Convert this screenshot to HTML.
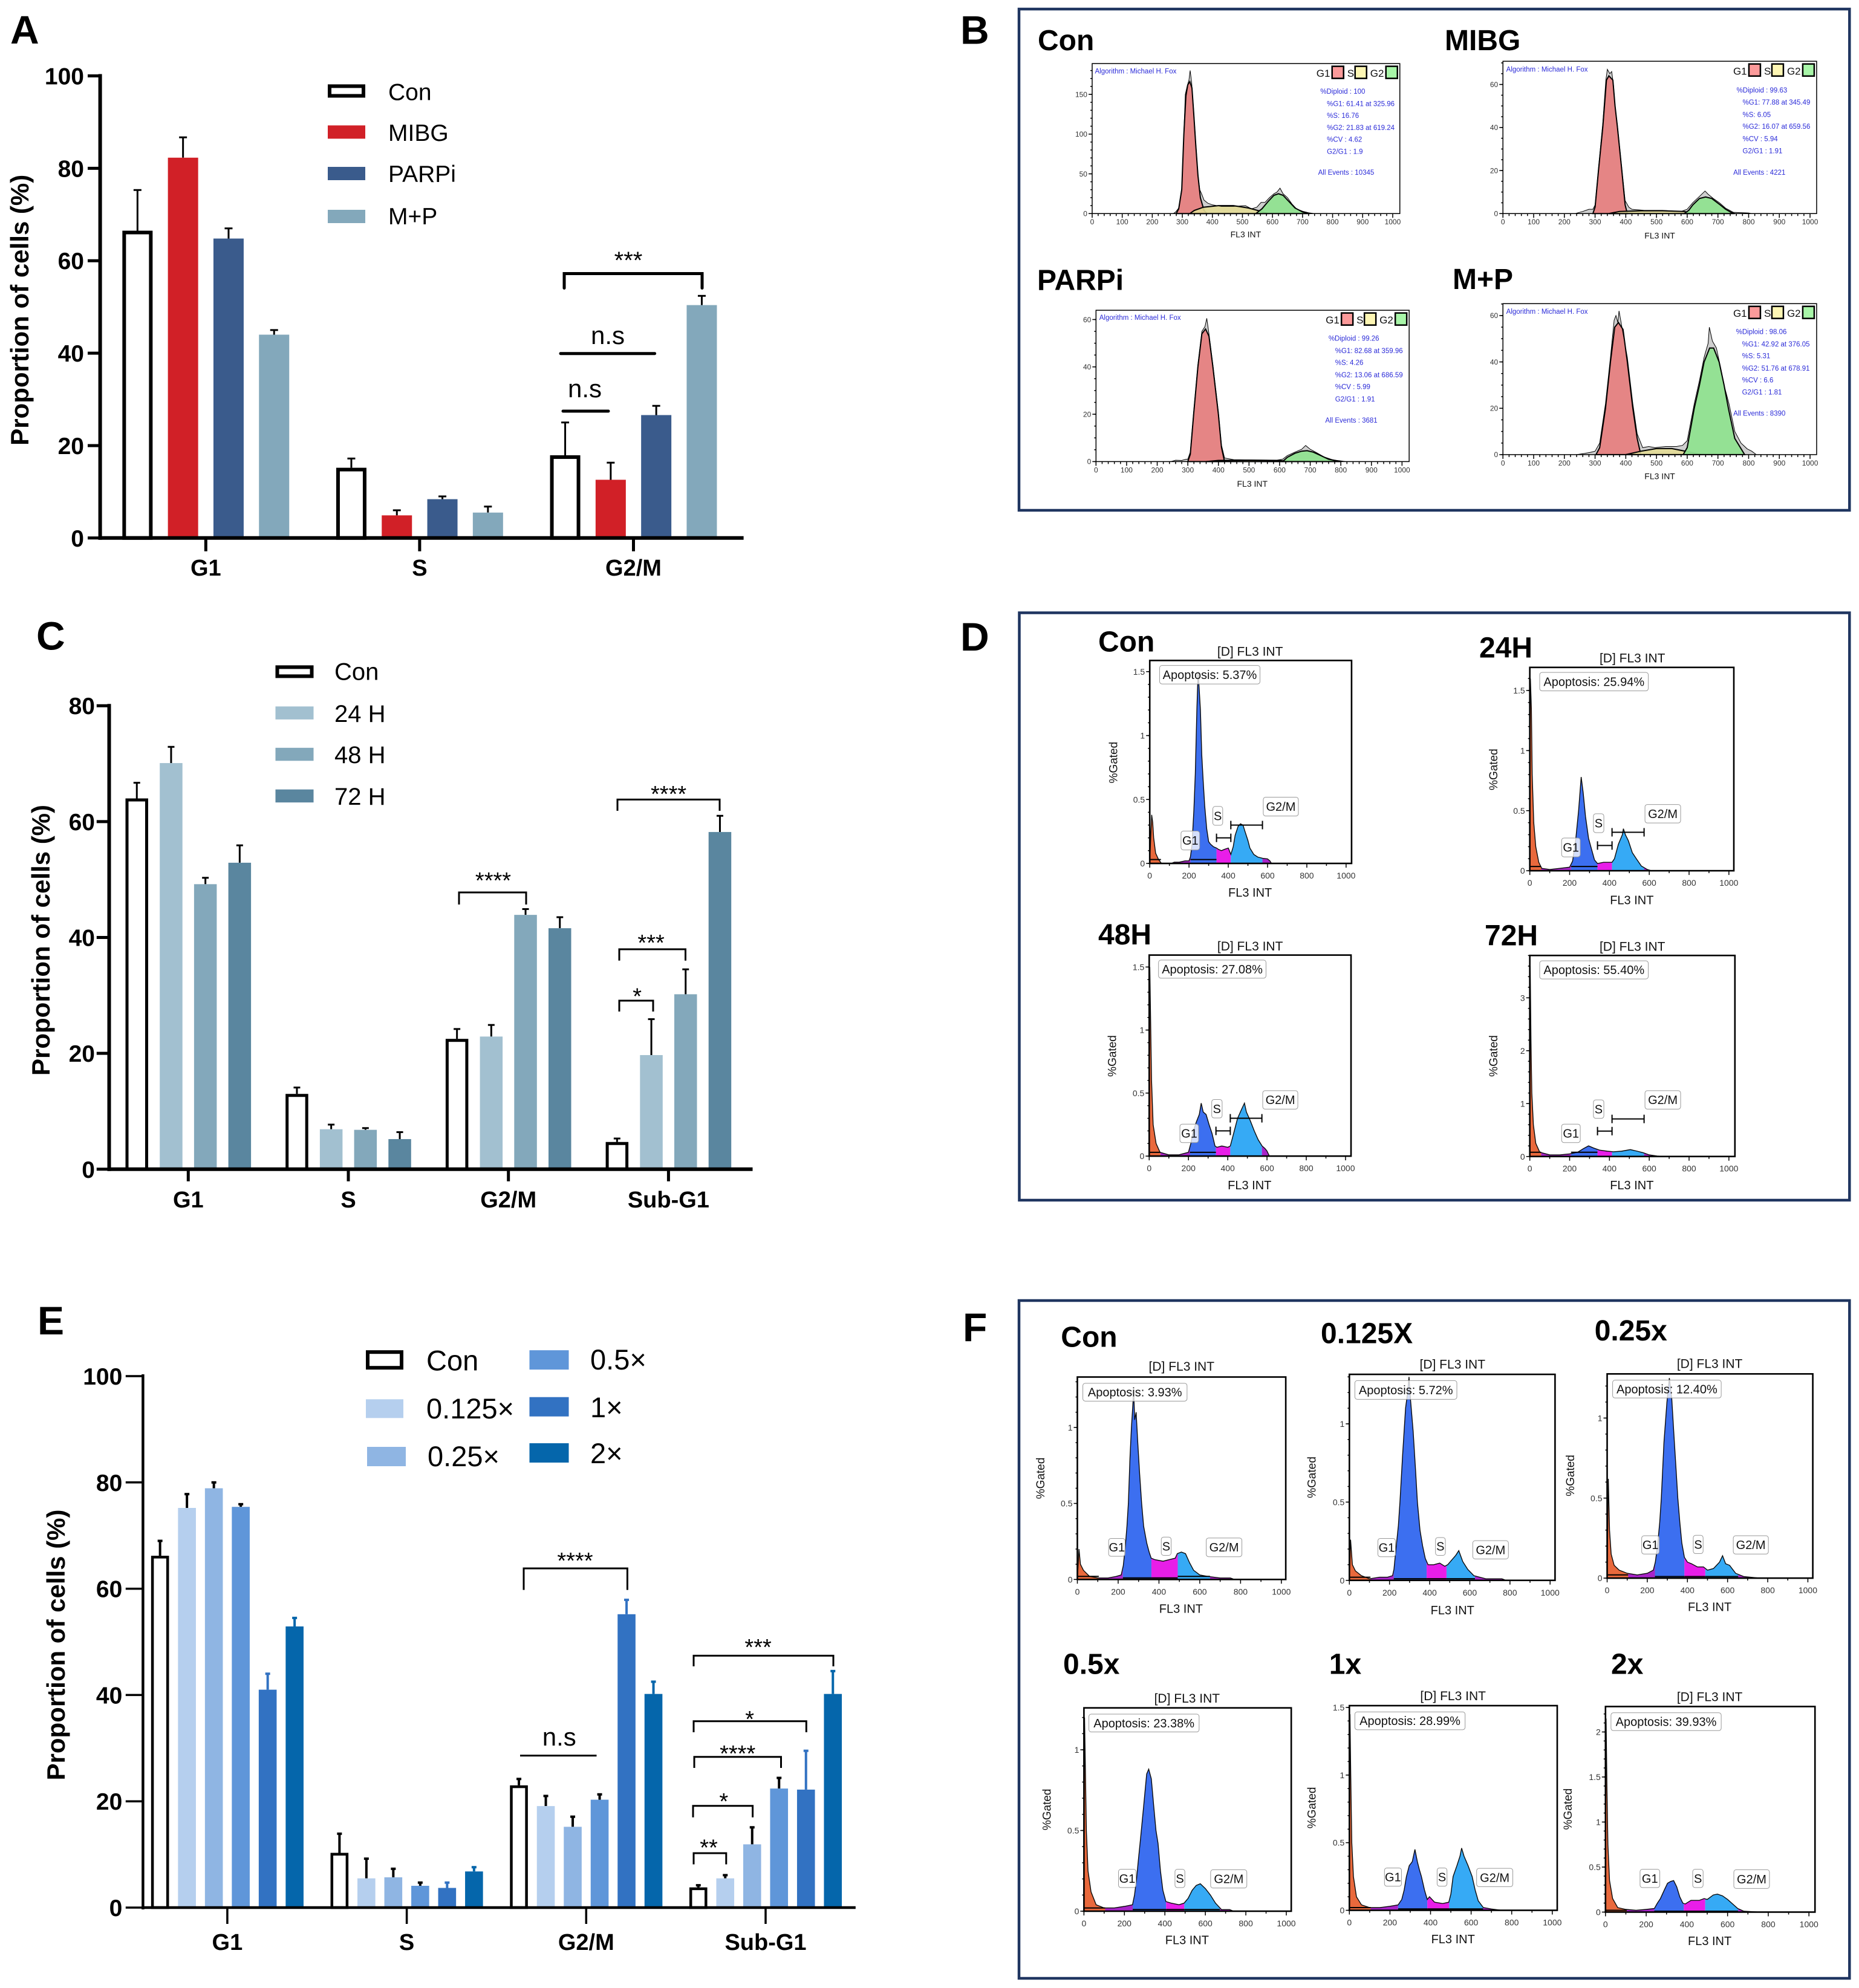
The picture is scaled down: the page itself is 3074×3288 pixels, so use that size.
<!DOCTYPE html>
<html lang="en">
<head>
<meta charset="utf-8">
<title>Cell cycle and apoptosis figure</title>
<style>
html,body{margin:0;padding:0;background:#fff;}
svg{display:block;font-family:"Liberation Sans",sans-serif;}
.letter{font-size:66px;font-weight:700;fill:#000;}
.ttl{font-size:48px;font-weight:700;fill:#000;}
.ytitle{font-size:42px;font-weight:700;fill:#000;text-anchor:middle;}
.leg{font-size:39px;fill:#000;}
.legE{font-size:47px;fill:#000;}
.star{font-size:38px;fill:#000;text-anchor:middle;}
.ns{font-size:42px;fill:#000;text-anchor:middle;}
.brk{fill:none;stroke:#000;stroke-width:3;}
.brkA{fill:none;stroke:#000;stroke-width:5;stroke-linecap:round;}
.frame{fill:none;stroke:#1f3560;stroke-width:4.5;}
</style>
</head>
<body>
<svg id="figure" xmlns="http://www.w3.org/2000/svg" width="3074" height="3288" viewBox="0 0 3074 3288">
<rect x="0" y="0" width="3074" height="3288" fill="#fff"/>

<rect class="frame" x="1685" y="15" width="1373.3" height="829"/>
<rect class="frame" x="1685.5" y="1013.5" width="1372.8" height="971.5"/>
<rect class="frame" x="1685" y="2151" width="1373.3" height="1121"/>

<text class="letter" x="17" y="72">A</text>
<text class="letter" x="1588" y="72.7">B</text>
<text class="letter" x="60" y="1074.7">C</text>
<text class="letter" x="1588" y="1076">D</text>
<text class="letter" x="62" y="2207">E</text>
<text class="letter" x="1592" y="2218">F</text>

<!-- chart A -->
<g id="chartA"></g>
<text class="ytitle" transform="translate(47,512.8) rotate(-90)">Proportion of cells (%)</text>
<g>
<rect x="545" y="142.5" width="56" height="16" fill="#fff" stroke="#000" stroke-width="6"/>
<text class="leg" x="642" y="165.5">Con</text>
<rect x="542" y="207.4" width="62" height="22" fill="#d12027"/>
<text class="leg" x="642" y="233">MIBG</text>
<rect x="542" y="276" width="62" height="22" fill="#3a5b8c"/>
<text class="leg" x="642" y="301">PARPi</text>
<rect x="542" y="347" width="62" height="22" fill="#83a8bb"/>
<text class="leg" x="642" y="371">M+P</text>
</g>
<path class="brkA" d="M933 476.5V452.5H1161V476.5"/>
<text class="star" style="font-size:40px" x="1039" y="444">***</text>
<path class="brkA" d="M927 584.7H1082.6"/>
<text class="ns" x="1005" y="569">n.s</text>
<path class="brkA" d="M931 680H1006"/>
<text class="ns" x="967" y="657">n.s</text>

<!-- chart C -->
<g id="chartC"></g>
<text class="ytitle" transform="translate(82,1555) rotate(-90)">Proportion of cells (%)</text>
<g>
<rect x="458.5" y="1103.4" width="57" height="15" fill="#fff" stroke="#000" stroke-width="6"/>
<text class="leg" x="553" y="1124.6" style="font-size:40px">Con</text>
<rect x="455.5" y="1168.4" width="63" height="21.5" fill="#a2c0d0"/>
<text class="leg" x="553" y="1194" style="font-size:40px">24 H</text>
<rect x="455.5" y="1236.8" width="63" height="21.5" fill="#83a8bb"/>
<text class="leg" x="553" y="1262" style="font-size:40px">48 H</text>
<rect x="455.5" y="1305.7" width="63" height="21.5" fill="#5a869f"/>
<text class="leg" x="553" y="1331" style="font-size:40px">72 H</text>
</g>
<path class="brk" d="M759 1496V1476H870V1496"/>
<text class="star" x="815.5" y="1469">****</text>
<path class="brk" d="M1021 1341V1322.4H1190V1341"/>
<text class="star" x="1105.6" y="1326">****</text>
<path class="brk" d="M1024 1588.7V1570H1133.5V1588.7"/>
<text class="star" x="1076.6" y="1572">***</text>
<path class="brk" d="M1024 1673V1655H1080V1673"/>
<text class="star" x="1053.7" y="1660.5">*</text>

<!-- chart E -->
<g id="chartE"></g>
<text class="ytitle" transform="translate(107,2720.5) rotate(-90)">Proportion of cells (%)</text>
<g>
<rect x="608" y="2236.2" width="56" height="26" fill="#fff" stroke="#000" stroke-width="6"/>
<text class="legE" x="705" y="2266.5">Con</text>
<rect x="605" y="2314.3" width="62" height="31" fill="#b5cfee"/>
<text class="legE" x="705" y="2346">0.125×</text>
<rect x="607" y="2393" width="64" height="32" fill="#8fb5e3"/>
<text class="legE" x="707" y="2425">0.25×</text>
<rect x="875.5" y="2233.2" width="65" height="32" fill="#5f96d9"/>
<text class="legE" x="976" y="2265">0.5×</text>
<rect x="875.5" y="2310.7" width="65" height="32" fill="#3272c2"/>
<text class="legE" x="976" y="2343.8">1×</text>
<rect x="875.5" y="2387" width="65" height="32" fill="#0566ab"/>
<text class="legE" x="976" y="2420">2×</text>
</g>
<path class="brk" d="M866 2629.6V2594H1037.4V2629.6"/>
<text class="star" x="951" y="2594">****</text>
<path class="brk" d="M860 2903.6H986.5"/>
<text class="ns" x="924.8" y="2887">n.s</text>
<path class="brk" d="M1147 2756V2738.4H1378V2756"/>
<text class="star" x="1253.6" y="2737">***</text>
<path class="brk" d="M1147 2865V2846.8H1333.3V2865"/>
<text class="star" x="1239.6" y="2856">*</text>
<path class="brk" d="M1148 2924V2905.8H1291.5V2924"/>
<text class="star" x="1219.7" y="2913">****</text>
<path class="brk" d="M1146 3005.7V2986.8H1244.6V3005.7"/>
<text class="star" x="1196.8" y="2992">*</text>
<path class="brk" d="M1147 3083.5V3065H1200.8V3083.5"/>
<text class="star" x="1172" y="3068.6">**</text>

<!-- flow panel titles -->
<text class="ttl" x="1716" y="83.2">Con</text>
<text class="ttl" x="2389" y="83.2">MIBG</text>
<text class="ttl" x="1715" y="479.7">PARPi</text>
<text class="ttl" x="2402" y="478">M+P</text>
<text class="ttl" x="1816" y="1077.7">Con</text>
<text class="ttl" x="2446" y="1087.3">24H</text>
<text class="ttl" x="1816" y="1561.8">48H</text>
<text class="ttl" x="2455" y="1563.7">72H</text>
<text class="ttl" x="1754.3" y="2227.3">Con</text>
<text class="ttl" x="2184" y="2221.4">0.125X</text>
<text class="ttl" x="2636.7" y="2217">0.25x</text>
<text class="ttl" x="1758" y="2768.6">0.5x</text>
<text class="ttl" x="2197.8" y="2768.6">1x</text>
<text class="ttl" x="2664" y="2768.6">2x</text>

<g id="flowPlots"></g>
</svg>

<script>
/* ---------- bar chart data ---------- */
const categoriesA = ['G1', 'S', 'G2/M'];
const yTicksA = [0, 20, 40, 60, 80, 100];
const seriesNamesA = ['Con', 'MIBG', 'PARPi', 'M+P'];
const conA = [66.5, 15.2, 17.9];
const conTopA = [75.3, 17.2, 25];
const mibgA = [82.3, 4.9, 12.6];
const mibgTopA = [86.7, 6, 16.3];
const parpiA = [64.8, 8.4, 26.6];
const parpiTopA = [67, 9, 28.6];
const mpA = [44, 5.5, 50.4];
const mpTopA = [45, 6.8, 52.4];

const categoriesC = ['G1', 'S', 'G2/M', 'Sub-G1'];
const yTicksC = [0, 20, 40, 60, 80];
const seriesNamesC = ['Con', '24 H', '48 H', '72 H'];
const conC = [64, 13, 22.5, 4.7];
const conTopC = [66.7, 14.1, 24.2, 5.3];
const h24C = [70.1, 6.9, 22.9, 19.7];
const h24TopC = [72.9, 7.7, 24.9, 25.9];
const h48C = [49.2, 6.8, 43.9, 30.2];
const h48TopC = [50.3, 7.1, 44.9, 34.5];
const h72C = [52.9, 5.2, 41.6, 58.2];
const h72TopC = [55.9, 6.4, 43.5, 61];

const categoriesE = ['G1', 'S', 'G2/M', 'Sub-G1'];
const yTicksE = [0, 20, 40, 60, 80, 100];
const seriesNamesE = ['Con', '0.125×', '0.25×', '0.5×', '1×', '2×'];
const conE = [66.2, 10.3, 23, 3.8];
const conTopE = [69, 13.9, 24.2, 4.2];
const d0125E = [75.2, 5.5, 19.1, 5.5];
const d0125TopE = [77.8, 9.2, 21, 6.1];
const d025E = [78.9, 5.7, 15.2, 11.9];
const d025TopE = [80, 7.3, 17.1, 15.1];
const d05E = [75.4, 4.1, 20.3, 22.4];
const d05TopE = [75.9, 4.7, 21.3, 24.4];
const d1E = [41, 3.7, 55.2, 22.2];
const d1TopE = [44, 4.7, 57.9, 29.5];
const d2E = [52.9, 6.8, 40.2, 40.2];
const d2TopE = [54.5, 7.6, 42.5, 44.5];

/* ---------- flow histograms: [FL3 INT, events] ---------- */
const bConRaw = [[270,0],[278,2],[288,7],[298,32],[305,102],[310,150],[316,160],[322,168],[326,180],[331,165],[338,128],[345,88],[352,50],[358,30],[364,25],[372,17],[385,13],[400,11],[430,9],[470,9],[510,10],[530,6],[548,8],[562,14],[575,14],[590,20],[605,25],[615,27],[625,32],[635,25],[650,20],[665,12],[680,6],[700,3],[720,1],[740,0]];
const bConG1 = [[280,0],[288,6],[298,30],[305,100],[312,148],[318,162],[325,166],[332,158],[338,125],[345,85],[352,48],[360,20],[372,4],[382,0]];
const bConS = [[325,0],[340,4],[370,8],[420,10],[470,10],[520,7],[560,3],[585,0]];
const bConG2 = [[545,0],[565,6],[585,15],[605,23],[620,25],[635,23],[655,15],[675,7],[700,2],[725,0]];
const bMibgRaw = [[235,0],[260,1],[280,2],[293,2],[300,4],[311,21],[325,42],[335,62],[340,67],[348,65],[354,66],[360,60],[365,50],[373,41],[387,21],[398,6],[410,3],[420,2],[460,1.5],[520,1.5],[580,1],[600,2],[618,5],[640,8],[658,10.5],[668,9],[685,7],[705,5],[725,2.5],[750,.6],[800,.3],[810,0]];
const bMibgG1 = [[293,0],[300,3],[311,20],[325,40],[337,62],[345,64],[358,62],[365,50],[373,40],[387,20],[398,4],[405,0]];
const bMibgS = [[345,0],[380,1],[450,1.3],[520,1.3],[590,1],[620,0]];
const bMibgG2 = [[590,0],[605,1.5],[618,4],[640,7],[660,7.7],[680,7],[705,4.3],[725,2],[745,.4],[755,0]];
const bParpiRaw = [[245,0],[260,.6],[280,.5],[295,1],[300,1],[308,4],[319,21],[333,41],[346,55],[356,57],[362,60.5],[369,54],[382,41],[400,21],[410,7],[420,1.5],[450,.8],[520,.7],[590,.6],[610,1],[625,2.5],[650,4],[672,5.2],[685,6.8],[700,5.2],[720,3.8],[745,2],[775,.7],[800,.3],[815,0]];
const bParpiG1 = [[300,0],[308,3],[319,20],[333,40],[346,54],[358,56],[369,53],[382,40],[400,20],[410,6],[420,0]];
const bParpiS = [[360,0],[400,.5],[500,.6],[600,.5],[630,0]];
const bParpiG2 = [[610,0],[625,1.8],[650,3.5],[672,4.4],[690,4.6],[710,4],[735,2.5],[760,1],[800,0]];
const bMpRaw = [[240,0],[265,.5],[285,1],[300,1.5],[315,5],[334,22],[350,42],[362,58],[368,60],[374,57],[378,62],[386,56],[394,50],[405,42],[423,22],[437,9],[455,3],[475,3.5],[495,3],[530,3.5],[565,3.5],[585,4],[600,6],[623,22],[640,32],[655,42],[668,48],[672,55],[682,49],[695,46],[708,38],[722,29],[736,22],[755,10],[775,5],[795,2.5],[810,1.5],[825,0]];
const bMpG1 = [[303,0],[315,3],[334,20],[350,40],[364,55],[376,57],[391,54],[405,40],[423,20],[437,7],[449,0]];
const bMpS = [[400,0],[450,1.5],[500,2.6],[550,2.6],[600,1.3],[645,0]];
const bMpG2 = [[587,0],[600,3],[623,20],[640,30],[655,40],[673,46],[686,46],[704,40],[720,30],[734,20],[755,7],[787,0]];

const dConCurve = [[0,0],[5,.2],[10,.38],[15,.32],[20,.2],[30,.08],[45,.03],[60,0],[110,0],[125,.01],[150,.01],[180,.02],[200,.02],[207,.05],[215,.14],[225,.42],[232,.7],[240,1.2],[246,1.5],[252,1.36],[258,1.2],[265,.85],[272,.65],[280,.45],[290,.27],[300,.17],[310,.15],[325,.13],[340,.12],[350,.11],[365,.1],[380,.11],[400,.12],[413,.07],[425,.13],[435,.22],[450,.29],[462,.31],[475,.3],[485,.25],[500,.18],[510,.12],[530,.07],[550,.05],[575,.04],[600,.035],[612,.02],[620,0],[1000,0]];
const d24hCurve = [[0,0],[3,1.6],[8,1.35],[12,.8],[20,.4],[30,.2],[45,.07],[60,.02],[100,.01],[150,.02],[200,.03],[215,.08],[230,.25],[245,.5],[258,.78],[268,.65],[280,.45],[295,.27],[310,.18],[325,.09],[340,.06],[370,.07],[395,.07],[413,.07],[425,.1],[445,.22],[465,.3],[470,.35],[480,.3],[495,.25],[515,.15],[535,.1],[560,.04],[590,.01],[610,0],[1000,0]];
const d48hCurve = [[0,0],[3,1.5],[8,1],[12,.6],[20,.25],[35,.1],[55,.03],[100,.01],[150,.01],[200,.03],[212,.1],[225,.2],[240,.27],[255,.33],[265,.42],[275,.35],[290,.33],[305,.25],[320,.18],[335,.08],[345,.07],[370,.08],[400,.07],[413,.08],[430,.18],[450,.3],[470,.37],[485,.42],[495,.35],[515,.28],[535,.2],[555,.13],[575,.08],[590,.06],[600,.04],[612,0],[1000,0]];
const d72hCurve = [[0,0],[2,3.6],[6,2.2],[10,1.2],[18,.6],[30,.25],[50,.08],[100,.03],[150,.03],[200,.05],[240,.08],[270,.15],[295,.2],[320,.16],[350,.12],[390,.1],[420,.09],[460,.1],[505,.13],[540,.1],[570,.07],[600,.03],[640,.01],[680,0],[1000,0]];
const fConCurve = [[0,0],[8,.2],[15,.1],[30,.06],[60,.02],[100,.01],[150,.01],[190,.02],[215,.03],[225,.09],[234,.2],[243,.35],[250,.5],[258,.8],[265,1],[272,1.15],[276,1.25],[281,1.05],[288,1.1],[296,.9],[305,.7],[315,.5],[325,.35],[340,.24],[352,.18],[362,.14],[380,.13],[420,.12],[450,.13],[480,.14],[490,.17],[510,.18],[530,.17],[550,.11],[570,.06],[600,.03],[640,.02],[700,.01],[750,.01],[770,0],[1000,0]];
const f0125Curve = [[0,0],[6,.26],[15,.1],[30,.06],[60,.03],[100,.01],[150,.02],[190,.02],[215,.03],[222,.07],[232,.2],[244,.35],[252,.5],[265,.8],[280,1.1],[290,1.2],[297,1.3],[305,1.15],[318,.95],[330,.7],[339,.5],[352,.32],[365,.22],[378,.14],[392,.1],[420,.1],[450,.11],[475,.09],[490,.1],[510,.13],[530,.16],[545,.19],[565,.12],[590,.07],[620,.03],[680,.01],[760,.01],[780,0],[1000,0]];
const f025Curve = [[0,0],[6,.62],[12,.3],[20,.15],[35,.08],[60,.05],[100,.03],[150,.02],[200,.03],[230,.05],[240,.1],[251,.2],[262,.35],[270,.5],[283,.85],[298,1.1],[310,1.25],[322,1.12],[335,.85],[345,.65],[352,.5],[362,.35],[372,.22],[385,.13],[400,.1],[420,.09],[450,.07],[480,.07],[500,.05],[530,.06],[560,.1],[575,.14],[590,.09],[610,.08],[640,.03],[680,.01],[760,0],[1000,0]];
const f05Curve = [[0,0],[3,1.2],[7,.9],[12,.5],[20,.25],[35,.12],[60,.04],[100,.02],[150,.02],[200,.03],[240,.04],[250,.1],[260,.2],[270,.33],[279,.44],[295,.65],[310,.85],[320,.88],[333,.82],[345,.65],[356,.5],[366,.42],[378,.25],[390,.13],[405,.06],[430,.05],[470,.04],[495,.05],[515,.08],[535,.13],[555,.16],[575,.17],[600,.14],[625,.1],[650,.05],[680,.01],[720,.01],[740,0],[1000,0]];
const f1Curve = [[0,0],[3,1.45],[7,1],[12,.5],[20,.25],[35,.1],[60,.04],[100,.02],[150,.02],[200,.03],[240,.04],[258,.08],[270,.15],[281,.25],[295,.33],[310,.36],[323,.45],[335,.36],[345,.3],[355,.25],[370,.15],[384,.08],[395,.1],[420,.06],[460,.05],[490,.06],[500,.12],[511,.25],[530,.33],[545,.4],[553,.46],[565,.4],[585,.33],[605,.25],[620,.15],[635,.07],[660,.02],[700,.01],[750,0],[1000,0]];
const f2Curve = [[0,0],[3,2.15],[7,1.4],[12,.75],[20,.35],[35,.15],[60,.05],[100,.03],[150,.02],[200,.03],[240,.04],[255,.1],[270,.15],[290,.25],[305,.32],[320,.34],[335,.35],[350,.28],[365,.17],[380,.1],[392,.09],[420,.13],[460,.13],[485,.15],[500,.14],[530,.19],[550,.2],[575,.18],[600,.14],[625,.09],[650,.04],[680,.01],[760,0],[1000,0]];

/* gates: [from, to, level] in FL3 INT and %Gated */
const dConGates = [[0,57,.03],[207,340,.03],[340,413,.2],[413,574,.3]];
const d24hGates = [[0,57,.035],[207,340,.035],[340,413,.21],[413,574,.32]];
const d48hGates = [[0,57,.03],[207,340,.03],[340,413,.2],[413,574,.3]];
const d72hGates = [[0,57,.08],[207,340,.08],[340,413,.48],[413,574,.71]];
const fConGates = [[0,105,.02],[223,363,.01],[363,492,.01],[492,650,.02]];
const f0125Gates = [[0,105,.02],[221,385,.01],[385,484,.01],[484,626,.01]];
const f025Gates = [[0,105,.02],[238,385,.01],[385,489,.01],[489,653,.01]];
const f05Gates = [[0,105,.02],[241,406,.01],[406,496,.01],[496,672,.01]];
const f1Gates = [[0,105,.02],[240,384,.01],[384,492,.01],[492,659,.01]];
const f2Gates = [[0,105,.02],[240,385,.01],[385,490,.01],[490,652,.01]];

const xTicksLabelledB = [0,100,200,300,400,500,600,700,800,900,1000];
const xTicksLabelledDF = [0,200,400,600,800,1000];
const yTicksBCon = [0,50,100,150];
const yTicks60 = [0,20,40,60];
const yTicks15 = [0,.5,1,1.5];
const yTicks3 = [0,1,2,3];
const yTicks1 = [0,.5,1];
const yTicks2 = [0,.5,1,1.5,2];

const statsBCon = ['%Diploid : 100','%G1: 61.41 at 325.96','%S: 16.76','%G2: 21.83 at 619.24','%CV : 4.62','G2/G1 : 1.9','All Events : 10345'];
const statsBMibg = ['%Diploid : 99.63','%G1: 77.88 at 345.49','%S: 6.05','%G2: 16.07 at 659.56','%CV : 5.94','G2/G1 : 1.91','All Events : 4221'];
const statsBParpi = ['%Diploid : 99.26','%G1: 82.68 at 359.96','%S: 4.26','%G2: 13.06 at 686.59','%CV : 5.99','G2/G1 : 1.91','All Events : 3681'];
const statsBMp = ['%Diploid : 98.06','%G1: 42.92 at 376.05','%S: 5.31','%G2: 51.76 at 678.91','%CV : 6.6','G2/G1 : 1.81','All Events : 8390'];

/* ---------- helpers ---------- */
const NS = 'http://www.w3.org/2000/svg';
function mk(parent, tag, attrs, txt) {
  const el = document.createElementNS(NS, tag);
  for (const k in attrs) el.setAttribute(k, attrs[k]);
  if (txt !== undefined) el.textContent = txt;
  parent.appendChild(el);
  return el;
}

/* ---------- bar charts ---------- */
function drawBarChart(cfg) {
  const root = document.getElementById(cfg.id);
  const yScale = v => cfg.y0 - (v / cfg.yMax) * (cfg.y0 - cfg.yTop);
  const catX = i => cfg.x0Cat + i * cfg.catPitch;
  const n = cfg.series.length;

  const yAxis = mk(root, 'line', {x1: cfg.axisX, x2: cfg.axisX, y1: yScale(cfg.yMax) - 3, y2: cfg.y0 + 3, stroke: '#000', 'stroke-width': cfg.axisW});
  
  

  cfg.yTicks.forEach(t => {
    const tick = mk(root, 'line', {x1: cfg.tickLeft, x2: cfg.axisX, y1: yScale(t), y2: yScale(t), stroke: '#000', 'stroke-width': cfg.axisW - 1});
    
    
    const lab = mk(root, 'text', {x: cfg.labelRight, y: yScale(t) + 14, 'text-anchor': 'end', 'font-size': 39, 'font-weight': 700}, String(t));
    
    
  });

  cfg.series.forEach((s, si) => {
    s.values.forEach((v, ci) => {
      const cx = catX(ci) + (si - (n - 1) / 2) * cfg.barPitch;
      const hw = cfg.barW / 2;
      const err = mk(root, 'line', {x1: cx, x2: cx, y1: yScale(v), y2: yScale(s.tops[ci]), stroke: s.err, 'stroke-width': cfg.errW});
      
      
      const cap = mk(root, 'line', {x1: cx - cfg.capW / 2, x2: cx + cfg.capW / 2, y1: yScale(s.tops[ci]), y2: yScale(s.tops[ci]), stroke: s.err, 'stroke-width': cfg.errW});
      
      
      const sw = s.outline ? cfg.outlineW : 0;
      const bar = mk(root, 'rect', {
        x: cx - hw + sw / 2, y: yScale(v) + sw / 2,
        width: cfg.barW - sw, height: Math.max(0, cfg.y0 - yScale(v) - sw / 2),
        fill: s.outline ? '#fff' : s.color,
        stroke: s.outline ? '#000' : 'none', 'stroke-width': sw
      });
      
      
    });
  });

  const xAxis = mk(root, 'line', {x1: cfg.axisX - cfg.axisW / 2, x2: cfg.axisEnd, y1: cfg.y0, y2: cfg.y0, stroke: '#000', 'stroke-width': cfg.axisW});
  
  

  cfg.cats.forEach((c, i) => {
    const tick = mk(root, 'line', {x1: catX(i), x2: catX(i), y1: cfg.y0, y2: cfg.y0 + cfg.xTickLen, stroke: '#000', 'stroke-width': cfg.axisW - 1});
    
    
    const lab = mk(root, 'text', {x: catX(i), y: cfg.catBase, 'text-anchor': 'middle', 'font-size': 38, 'font-weight': 700}, c);
    
    
  });
}

drawBarChart({
  id: 'chartA', cats: categoriesA, yTicks: yTicksA, yMax: 100, y0: 889.8, yTop: 125.5,
  axisX: 165.6, axisW: 6, axisEnd: 1229.6, tickLeft: 145, labelRight: 139,
  x0Cat: 340.3, catPitch: 353.6, barPitch: 75.3, barW: 50, outlineW: 6, errW: 3, capW: 13,
  xTickLen: 22, catBase: 952,
  series: [
    {values: conA, tops: conTopA, outline: true, err: '#000'},
    {values: mibgA, tops: mibgTopA, color: '#d12027', err: '#000'},
    {values: parpiA, tops: parpiTopA, color: '#3a5b8c', err: '#000'},
    {values: mpA, tops: mpTopA, color: '#83a8bb', err: '#000'}
  ]
});
drawBarChart({
  id: 'chartC', cats: categoriesC, yTicks: yTicksC, yMax: 80, y0: 1933.8, yTop: 1167.2,
  axisX: 180.5, axisW: 6, axisEnd: 1244.5, tickLeft: 159.8, labelRight: 157,
  x0Cat: 311.3, catPitch: 264.7, barPitch: 56.7, barW: 37.5, outlineW: 5, errW: 3, capW: 11,
  xTickLen: 20, catBase: 1997,
  series: [
    {values: conC, tops: conTopC, outline: true, err: '#000'},
    {values: h24C, tops: h24TopC, color: '#a2c0d0', err: '#000'},
    {values: h48C, tops: h48TopC, color: '#83a8bb', err: '#000'},
    {values: h72C, tops: h72TopC, color: '#5a869f', err: '#000'}
  ]
});
drawBarChart({
  id: 'chartE', cats: categoriesE, yTicks: yTicksE, yMax: 100, y0: 3155, yTop: 2276,
  axisX: 236.4, axisW: 4.5, axisEnd: 1414.8, tickLeft: 207.8, labelRight: 202.3,
  x0Cat: 375.9, catPitch: 296.7, barPitch: 44.5, barW: 29.6, outlineW: 4.5, errW: 4, capW: 8,
  xTickLen: 27, catBase: 3225,
  series: [
    {values: conE, tops: conTopE, outline: true, err: '#000'},
    {values: d0125E, tops: d0125TopE, color: '#b5cfee', err: '#000'},
    {values: d025E, tops: d025TopE, color: '#8fb5e3', err: '#000'},
    {values: d05E, tops: d05TopE, color: '#5f96d9', err: '#000'},
    {values: d1E, tops: d1TopE, color: '#3272c2', err: '#3272c2'},
    {values: d2E, tops: d2TopE, color: '#0566ab', err: '#0566ab'}
  ]
});

/* ---------- flow plots ---------- */
const fx = 1.1027, ox = 1650;
const panelMap = {B: {oy: 0, fy: 1.826}, D: {oy: 1000, fy: 1.57}, F: {oy: 2130, fy: 1.356}};
const px = z => ox + z / fx;

let clipCount = 0;

function pathFrom(points, xs, ys, close) {
  let d = points.map((p, i) => (i ? 'L' : 'M') + xs(p[0]).toFixed(1) + ' ' + ys(p[1]).toFixed(1)).join('');
  if (close) d += 'L' + xs(points[points.length - 1][0]).toFixed(1) + ' ' + ys(0).toFixed(1) + 'L' + xs(points[0][0]).toFixed(1) + ' ' + ys(0).toFixed(1) + 'Z';
  return d;
}

function drawFlowFrame(g, p, m) {
  const py = z => m.oy + z / m.fy;
  const L = px(p.box[0]), T = py(p.box[1]), R = px(p.box[2]), B = py(p.box[3]);
  const X1000 = px(p.x1000), Yref = py(p.yRefZ);
  const xs = v => L + v * (X1000 - L) / 1000;
  const ys = v => B - v * (B - Yref) / p.yRefV;

  const bg = mk(g, 'rect', {x: L, y: T, width: R - L, height: B - T, fill: '#fff'});
  
  

  for (let v = 0; v <= 1000 + 1e-6; v += p.xMinor) {
    const isMajor = p.xLabels.indexOf(v) >= 0;
    const t = mk(g, 'line', {x1: xs(v), x2: xs(v), y1: B, y2: B + (isMajor ? 7 : 4), stroke: '#000', 'stroke-width': 1.5});
    
    
  }
  p.xLabels.forEach(v => {
    const t = mk(g, 'text', {x: xs(v), y: B + p.tickBase, 'text-anchor': 'middle', 'font-size': p.tickFont, fill: '#333'}, String(v));
    
    
  });
  for (let v = 0; ys(v) >= T; v += p.yMinor) {
    const t = mk(g, 'line', {x1: L - 3, x2: L, y1: ys(v), y2: ys(v), stroke: '#000', 'stroke-width': 1.5});
    
    
  }
  p.yTicks.forEach(v => {
    const t = mk(g, 'line', {x1: L - 6, x2: L, y1: ys(v), y2: ys(v), stroke: '#000', 'stroke-width': 1.5});
    
    
    const lab = mk(g, 'text', {x: L - 8, y: ys(v) + p.tickFont * 0.36, 'text-anchor': 'end', 'font-size': p.tickFont, fill: '#333'}, String(v));
    
    
  });
  const xl = mk(g, 'text', {x: px(p.xLabel[0]), y: py(p.xLabel[1]), 'text-anchor': 'middle', 'font-size': p.axisFont, fill: '#111'}, 'FL3 INT');
  
  
  return {L, T, R, B, xs, ys, py};
}

function drawBoxBorder(g, f, w) {
  const b = mk(g, 'rect', {x: f.L, y: f.T, width: f.R - f.L, height: f.B - f.T, fill: 'none', stroke: '#000', 'stroke-width': w});
  
  
}

function drawFitPlot(p) {
  const host = document.getElementById('flowPlots');
  const g = mk(host, 'g', {});
  
  
  const m = panelMap.B;
  const f = drawFlowFrame(g, p, m);

  const rawArea = mk(g, 'path', {d: pathFrom(p.raw, f.xs, f.ys, true), fill: '#cfcfcf'});
  
  
  const g1 = mk(g, 'path', {d: pathFrom(p.g1, f.xs, f.ys, true), fill: '#e58585', stroke: '#000', 'stroke-width': 2});
  
  
  const s = mk(g, 'path', {d: pathFrom(p.s, f.xs, f.ys, true), fill: '#e2da95', 'fill-opacity': 0.9, stroke: '#000', 'stroke-width': 2});
  
  
  const g2 = mk(g, 'path', {d: pathFrom(p.g2, f.xs, f.ys, true), fill: '#90e290', 'fill-opacity': 0.95, stroke: '#000', 'stroke-width': 2});
  
  
  const raw = mk(g, 'path', {d: pathFrom(p.raw, f.xs, f.ys, false), fill: 'none', stroke: '#000', 'stroke-width': 1});
  
  
  drawBoxBorder(g, f, 1.5);

  const alg = mk(g, 'text', {x: px(p.alg[0]), y: f.py(p.alg[1]) + 4, 'font-size': 11.5, fill: '#2a2ad8'}, 'Algorithm : Michael H. Fox');
  
  

  p.stats.forEach((txt, i) => {
    const x = i === 0 ? p.statX[0] : (i === 6 ? p.statX[2] : p.statX[1]);
    const t = mk(g, 'text', {x: px(x), y: f.py(p.statY[i]) + 4, 'font-size': 11.5, fill: '#2a2ad8'}, txt);
    
    
  });

  const legendOffsets = [[-138, 'G1', -112, '#fb9a9a'], [-87, 'S', -74, '#fdf6b4'], [-49, 'G2', -23, '#a8f5a8']];
  legendOffsets.forEach(e => {
    const t = mk(g, 'text', {x: f.R + e[0], y: f.T + 22, 'font-size': 17, fill: '#111'}, e[1]);
    
    
    const r = mk(g, 'rect', {x: f.R + e[2], y: f.T + 4.5, width: 19, height: 20, fill: e[3], stroke: '#000', 'stroke-width': 2.5});
    
    
  });
}

function drawGatePlot(p) {
  const host = document.getElementById('flowPlots');
  const g = mk(host, 'g', {});
  
  
  const m = panelMap[p.panel];
  const f = drawFlowFrame(g, p, m);
  const gt = p.gates;
  const colors = ['#e9693c', '#a824c8', '#3c6ff0', '#e81ee8', '#36aaf5', '#a824c8'];
  const edges = [0, gt[0][1], gt[1][0], gt[1][1], gt[2][1], gt[3][1], 1000];

  const id = 'histclip' + (clipCount++);
  const defs = mk(g, 'clipPath', {id: id});
  mk(defs, 'path', {d: pathFrom(p.curve, f.xs, f.ys, true)});
  const cg = mk(g, 'g', {'clip-path': 'url(#' + id + ')'});
  
  
  colors.forEach((c, i) => {
    const r = mk(cg, 'rect', {x: f.xs(edges[i]), y: f.T, width: f.xs(edges[i + 1]) - f.xs(edges[i]), height: f.B - f.T, fill: c});
    
    
  });
  const line = mk(g, 'path', {d: pathFrom(p.curve.filter(q => q[0] < 999), f.xs, f.ys, false), fill: 'none', stroke: '#0a0a0a', 'stroke-width': 1.4});
  
  

  gt.forEach(q => {
    const yy = f.ys(q[2]);
    const h = mk(g, 'line', {x1: f.xs(q[0]), x2: f.xs(q[1]), y1: yy, y2: yy, stroke: '#000', 'stroke-width': 2});
    
    
    if (p.panel === 'D' && q[2] > .1) {
      const a = mk(g, 'line', {x1: f.xs(q[0]), x2: f.xs(q[0]), y1: yy - 7, y2: yy + 7, stroke: '#000', 'stroke-width': 2});
      
      
      const b = mk(g, 'line', {x1: f.xs(q[1]), x2: f.xs(q[1]), y1: yy - 7, y2: yy + 7, stroke: '#000', 'stroke-width': 2});
      
      
    }
  });
  drawBoxBorder(g, f, 2.6);

  const head = mk(g, 'text', {x: px(p.head[0]), y: f.py(p.head[1]), 'text-anchor': 'middle', 'font-size': 21, fill: '#111'}, '[D] FL3 INT');
  
  

  const yt = mk(g, 'text', {transform: 'translate(' + (px(p.gated[0]) + 7) + ',' + f.py(p.gated[1]) + ') rotate(-90)', 'text-anchor': 'middle', 'font-size': 19, fill: '#111'}, '%Gated');
  
  

  p.labels.forEach(l => {
    const x0 = px(l.r[0]), y0 = f.py(l.r[1]), x1 = px(l.r[2]), y1 = f.py(l.r[3]);
    const r = mk(g, 'rect', {x: x0, y: y0, width: x1 - x0, height: y1 - y0, rx: 4, fill: 'rgba(255,255,255,.78)', stroke: '#9a9a9a', 'stroke-width': 1});
    
    
    const t = mk(g, 'text', {x: (x0 + x1) / 2, y: (y0 + y1) / 2 + 7, 'text-anchor': 'middle', 'font-size': 20, fill: '#111'}, l.t);
    
    
  });
}

function fitCfg(o) {
  return Object.assign({xLabels: xTicksLabelledB, xMinor: 20, tickBase: 18, tickFont: 12, axisFont: 14}, o);
}
drawFitPlot(fitCfg({box: [172,192,733,645], x1000: 720, yRefV: 150, yRefZ: 285, yTicks: yTicksBCon, yMinor: 10,
  raw: bConRaw, g1: bConG1, s: bConS, g2: bConG2, xLabel: [452,717], alg: [177,215], stats: statsBCon,
  statX: [588,600,584], statY: [276,313,349,385,421,457,520]}));
drawFitPlot(fitCfg({box: [921,185,1493,645], x1000: 1481, yRefV: 60, yRefZ: 255, yTicks: yTicks60, yMinor: 5,
  raw: bMibgRaw, g1: bMibgG1, s: bMibgS, g2: bMibgG2, xLabel: [1207,720], alg: [927,209], stats: statsBMibg,
  statX: [1347,1358,1341], statY: [272,309,346,382,419,456,520]}));
drawFitPlot(fitCfg({box: [179,937,750,1394], x1000: 737, yRefV: 60, yRefZ: 965, yTicks: yTicks60, yMinor: 5,
  raw: bParpiRaw, g1: bParpiG1, s: bParpiS, g2: bParpiG2, xLabel: [464,1470], alg: [185,959], stats: statsBParpi,
  statX: [603,615,597], statY: [1022,1059,1095,1132,1168,1205,1269]}));
drawFitPlot(fitCfg({box: [921,917,1493,1373], x1000: 1481, yRefV: 60, yRefZ: 953, yTicks: yTicks60, yMinor: 5,
  raw: bMpRaw, g1: bMpG1, s: bMpS, g2: bMpG2, xLabel: [1207,1447], alg: [927,940], stats: statsBMp,
  statX: [1346,1357,1341], statY: [1002,1039,1075,1112,1148,1184,1248]}));

function gateCfg(o) {
  return Object.assign({xLabels: xTicksLabelledDF, xMinor: 100, tickBase: 25, tickFont: 14, axisFont: 20, yMinor: .1}, o);
}
function marks(a, g1, s, g2) {
  return [{r: a[0], t: a[1]}, {r: g1, t: 'G1'}, {r: s, t: 'S'}, {r: g2, t: 'G2/M'}];
}
/* panel D */
drawGatePlot(gateCfg({panel: 'D', box: [277,145,645,672], x1000: 635, yRefV: 1.5, yRefZ: 174, yTicks: yTicks15,
  curve: dConCurve, gates: dConGates, head: [460,133], xLabel: [460,758], gated: [210,410],
  labels: marks([[295,158,478,206],'Apoptosis: 5.37%'], [334,588,368,637], [392,524,410,573], [484,500,548,549])}));
drawGatePlot(gateCfg({panel: 'D', box: [970,163,1342,691], x1000: 1333, yRefV: 1.5, yRefZ: 223, yTicks: yTicks15,
  curve: d24hCurve, gates: d24hGates, head: [1157,150], xLabel: [1156,778], gated: [903,428],
  labels: marks([[988,176,1186,224],'Apoptosis: 25.94%'], [1028,606,1062,655], [1086,543,1105,592], [1180,519,1245,567])}));
drawGatePlot(gateCfg({panel: 'D', box: [276,910,644,1432], x1000: 634, yRefV: 1.5, yRefZ: 941, yTicks: yTicks15,
  curve: d48hCurve, gates: d48hGates, head: [460,898], xLabel: [459,1518], gated: [208,1172],
  labels: marks([[293,923,489,970],'Apoptosis: 27.08%'], [332,1349,366,1397], [390,1285,409,1333], [483,1262,547,1310])}));
drawGatePlot(gateCfg({panel: 'D', box: [970,911,1344,1433], x1000: 1333, yRefV: 3, yRefZ: 1021, yTicks: yTicks3, yMinor: .2,
  curve: d72hCurve, gates: d72hGates, head: [1157,899], xLabel: [1156,1518], gated: [903,1172],
  labels: marks([[988,925,1186,972],'Apoptosis: 55.40%'], [1028,1349,1062,1397], [1086,1286,1105,1334], [1180,1262,1245,1310])}));
/* panel F */
drawGatePlot(gateCfg({panel: 'F', box: [145,200,525,654], x1000: 517, yRefV: 1, yRefZ: 313, yTicks: yTicks1,
  curve: fConCurve, gates: fConGates, head: [335,186], xLabel: [334,729], gated: [77,427],
  labels: marks([[155,214,345,254],'Apoptosis: 3.93%'], [202,562,232,602], [298,559,316,600], [380,561,445,603])}));
drawGatePlot(gateCfg({panel: 'F', box: [641,194,1016,656], x1000: 1007, yRefV: 1, yRefZ: 305, yTicks: yTicks1,
  curve: f0125Curve, gates: f0125Gates, head: [829,181], xLabel: [829,732], gated: [572,425],
  labels: marks([[651,208,837,250],'Apoptosis: 5.72%'], [693,562,725,603], [798,560,816,600], [866,567,931,608])}));
drawGatePlot(gateCfg({panel: 'F', box: [1111,193,1486,651], x1000: 1477, yRefV: 1, yRefZ: 292, yTicks: yTicks1,
  curve: f025Curve, gates: f025Gates, head: [1298,180], xLabel: [1298,725], gated: [1043,421],
  labels: marks([[1121,207,1319,247],'Apoptosis: 12.40%'], [1174,556,1206,597], [1268,555,1286,596], [1341,556,1405,597])}));
drawGatePlot(gateCfg({panel: 'F', box: [157,942,535,1398], x1000: 526, yRefV: 1, yRefZ: 1036, yTicks: yTicks1,
  curve: f05Curve, gates: f05Gates, head: [345,930], xLabel: [345,1472], gated: [89,1170],
  labels: marks([[166,956,367,996],'Apoptosis: 23.38%'], [220,1304,252,1345], [323,1304,341,1345], [388,1305,454,1346])}));
drawGatePlot(gateCfg({panel: 'F', box: [641,937,1020,1396], x1000: 1011, yRefV: 1.5, yRefZ: 941, yTicks: yTicks15,
  curve: f1Curve, gates: f1Gates, head: [830,925], xLabel: [830,1470], gated: [572,1166],
  labels: marks([[651,951,852,991],'Apoptosis: 28.99%'], [705,1301,736,1342], [801,1301,819,1342], [873,1302,939,1343])}));
drawGatePlot(gateCfg({panel: 'F', box: [1108,939,1490,1400], x1000: 1479, yRefV: 2, yRefZ: 996, yTicks: yTicks2,
  curve: f2Curve, gates: f2Gates, head: [1298,927], xLabel: [1298,1474], gated: [1039,1169],
  labels: marks([[1118,953,1319,993],'Apoptosis: 39.93%'], [1171,1304,1207,1345], [1267,1304,1286,1345], [1342,1305,1407,1347])}));
</script>
</body>
</html>
